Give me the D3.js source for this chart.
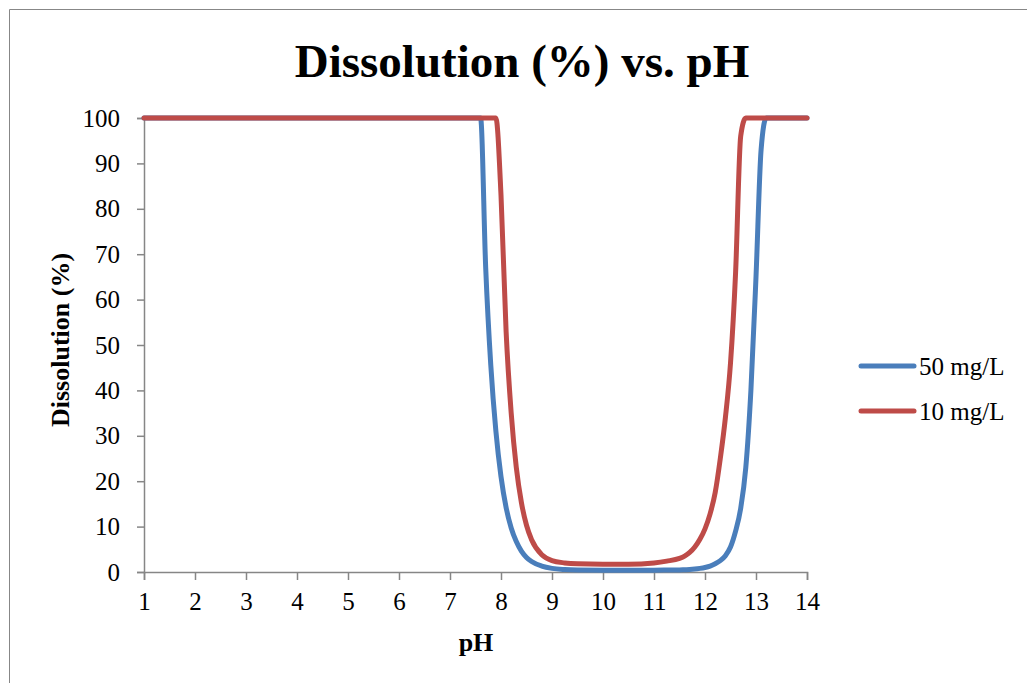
<!DOCTYPE html>
<html>
<head>
<meta charset="utf-8">
<script src="https://cdn.jsdelivr.net/npm/d3@7"></script>
<style>
  body { margin: 0; background: #fff; }
  text { font-family: "Liberation Serif", "Times New Roman", serif; fill: #000; }
</style>
</head>
<body>
<div id="chart"></div>
<script>
// pH values shared by both series
const pH = [1, 2, 3, 4, 5, 6, 7,
  7.5, 7.6, 7.7, 7.8, 7.9, 8.0, 8.1, 8.2, 8.3, 8.4, 8.5, 8.6,
  8.8, 9.0, 9.25, 9.5, 10, 10.5, 11, 11.25,
  11.5, 11.6, 11.7, 11.8, 11.9, 12.0, 12.1, 12.2, 12.3, 12.4, 12.5, 12.6, 12.7, 12.8, 12.9, 13.0, 13.1, 13.2,
  14];

// dissolution (%)
const diss50 = [100, 100, 100, 100, 100, 100, 100,
  100, 100, 67, 45.5, 31, 21, 14.2, 9.7, 6.7, 4.6, 3.2, 2.3,
  1.3, 0.8, 0.55, 0.45, 0.4, 0.4, 0.4, 0.42,
  0.45, 0.5, 0.55, 0.65, 0.8, 1.0, 1.3, 1.8, 2.5, 3.6, 5.5, 9, 14, 23, 40, 65, 93, 100,
  100];

const diss10 = [100, 100, 100, 100, 100, 100, 100,
  100, 100, 100, 100, 100, 83, 53, 35, 23, 15.3, 10.3, 7.1,
  3.8, 2.5, 2.0, 1.8, 1.7, 1.7, 2.0, 2.4,
  3.0, 3.5, 4.3, 5.5, 7.2, 9.5, 12.8, 17.5, 25, 34, 46, 66, 96, 100, 100, 100, 100, 100,
  100];

const seriesNames = ["50 mg/L", "10 mg/L"];
const seriesColors = ["#4A7EBB", "#BE4B48"];
const xTicks = d3.range(1, 15);
const yTicks = d3.range(0, 101, 10);

const w = 1027;
const h = 683;

const svg = d3.select("#chart")
              .append("svg")
              .attr("width", w)
              .attr("height", h);

// outer frame (only top and left show in the picture)
svg.append("path")
   .attr("d", "M9.5,683 V9.5 H1027")
   .attr("fill", "none")
   .attr("stroke", "#878787")
   .attr("stroke-width", 1);

const xScale = d3.scaleLinear().domain([1, 14]).range([144, 807]);
const yScale = d3.scaleLinear().domain([0, 100]).range([572, 118]);

// axes
const xAxis = d3.axisBottom(xScale)
                .tickValues(xTicks)
                .tickSize(8)
                .tickPadding(12)
                .tickFormat(d3.format("d"));

const yAxis = d3.axisLeft(yScale)
                .tickValues(yTicks)
                .tickSize(7)
                .tickPadding(17);

const gx = svg.append("g")
              .attr("transform", "translate(0,572)")
              .call(xAxis);

const gy = svg.append("g")
              .attr("transform", "translate(144,0)")
              .call(yAxis);

[gx, gy].forEach(g => {
  g.select(".domain").attr("stroke", "#868686").attr("stroke-width", 1.5);
  g.selectAll(".tick line").attr("stroke", "#868686").attr("stroke-width", 1.5);
  g.selectAll(".tick text")
   .attr("font-family", "Liberation Serif")
   .attr("font-size", 25)
   .attr("fill", "#000");
});

// the two curves
const line = d3.line()
               .x((d, i) => xScale(pH[i]))
               .y(d => yScale(d))
               .curve(d3.curveMonotoneX);

[diss50, diss10].forEach((s, i) => {
  svg.append("path")
     .datum(s)
     .attr("d", line)
     .attr("fill", "none")
     .attr("stroke", seriesColors[i])
     .attr("stroke-width", 5)
     .attr("stroke-linejoin", "round")
     .attr("stroke-linecap", "round");
});

// titles
svg.append("text")
   .attr("x", 522)
   .attr("y", 77)
   .attr("text-anchor", "middle")
   .attr("font-weight", "bold")
   .attr("font-size", 47)
   .text("Dissolution (%) vs. pH");

svg.append("text")
   .attr("x", 476)
   .attr("y", 651)
   .attr("text-anchor", "middle")
   .attr("font-weight", "bold")
   .attr("font-size", 26)
   .text("pH");

svg.append("text")
   .attr("transform", "translate(69,340) rotate(-90)")
   .attr("text-anchor", "middle")
   .attr("font-weight", "bold")
   .attr("font-size", 26)
   .text("Dissolution (%)");

// legend
const legend = svg.append("g");
seriesNames.forEach((name, i) => {
  const ly = 366 + i * 45;
  legend.append("line")
        .attr("x1", 861).attr("x2", 914)
        .attr("y1", ly).attr("y2", ly)
        .attr("stroke", seriesColors[i])
        .attr("stroke-width", 5)
        .attr("stroke-linecap", "round");
  legend.append("text")
        .attr("x", 919)
        .attr("y", ly + 9)
        .attr("font-size", 25)
        .text(name);
});
</script>
</body>
</html>
